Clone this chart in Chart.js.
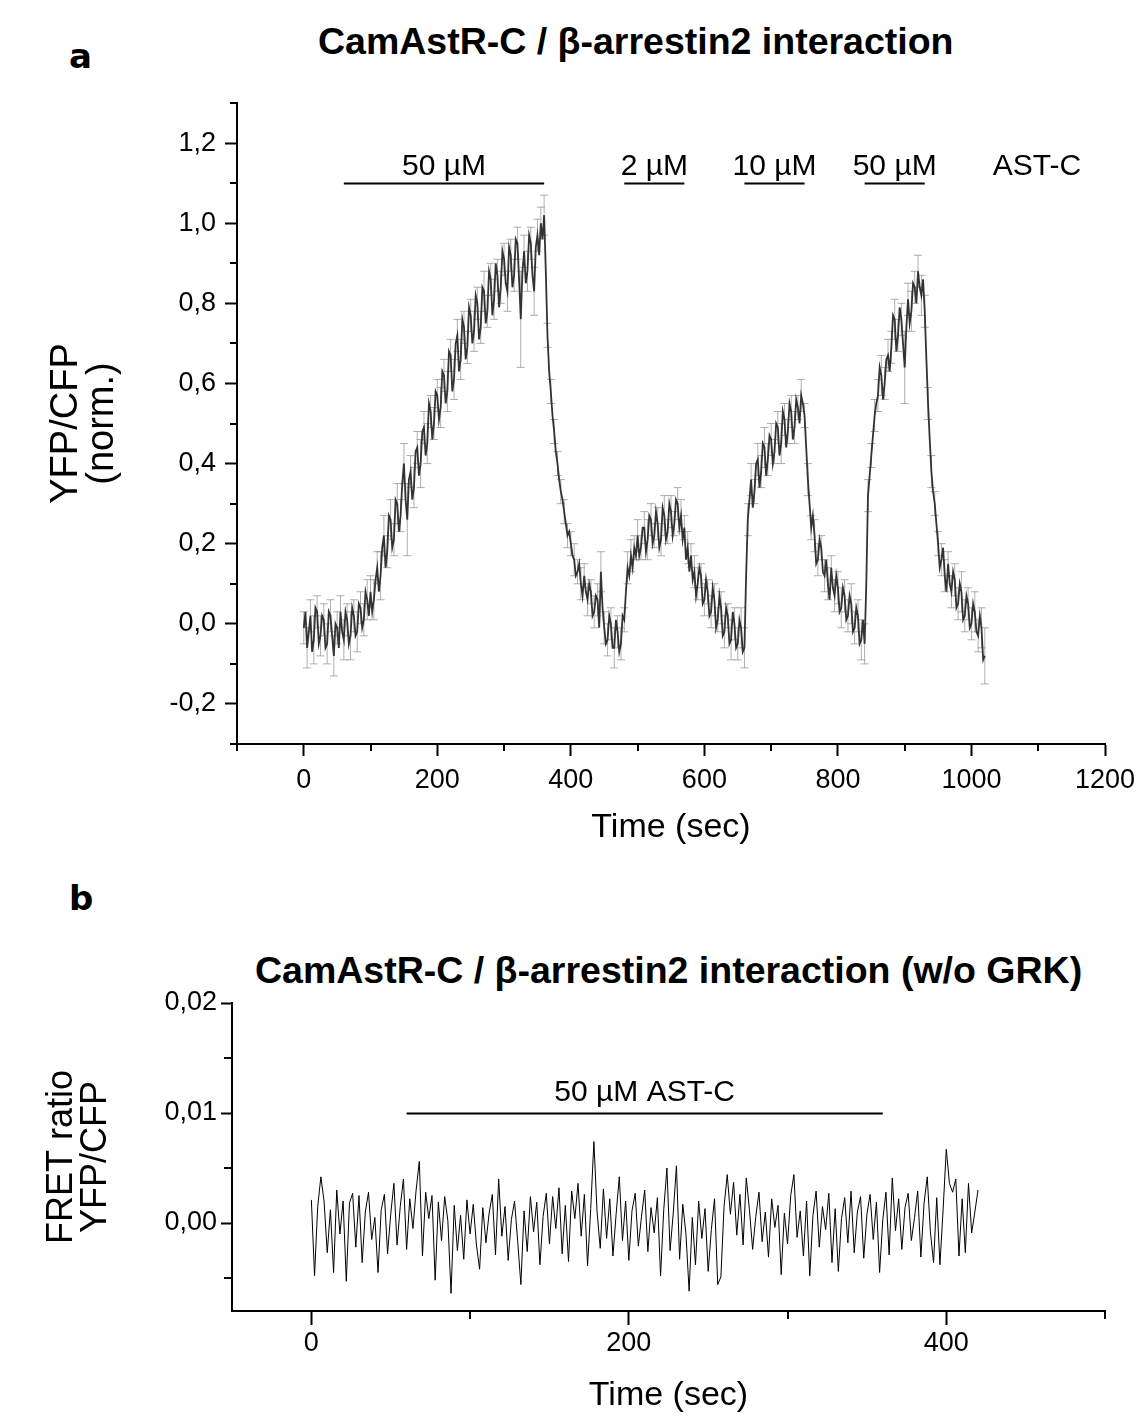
<!DOCTYPE html>
<html>
<head>
<meta charset="utf-8">
<title>CamAstR-C / β-arrestin2 interaction</title>
<script src="https://cdn.jsdelivr.net/npm/chart.js@4.4.1/dist/chart.umd.min.js"></script>
<style>
    html, body { margin: 0; padding: 0; background: #fff; }
    body { width: 1145px; height: 1419px; position: relative; overflow: hidden; font-family: "Liberation Sans", Arial, sans-serif; }
    .letter { position: absolute; font-family: "DejaVu Sans", sans-serif; font-weight: bold; font-size: 34px; line-height: 1; color: #000; }
    .title { position: absolute; font-weight: bold; font-size: 37.5px; line-height: 1; white-space: nowrap; color: #000; }
    #boxA { position: absolute; left: 0; top: 0; width: 1145px; height: 880px; }
    #boxB { position: absolute; left: 0; top: 900px; width: 1145px; height: 519px; }
</style>
</head>
<body>
<div class="letter" style="left:69px; top:39px;">a</div>
<div class="letter" style="left:69px; top:881px;">b</div>
<div class="title" style="left:318px; top:23px;">CamAstR-C / β-arrestin2 interaction</div>
<div class="title" style="left:255px; top:952px;">CamAstR-C / β-arrestin2 interaction (w/o GRK)</div>
<div id="boxA"><canvas id="chartA"></canvas></div>
<div id="boxB"><canvas id="chartB"></canvas></div>

<script>
// ---- panel a: normalised YFP/CFP, one sample every 2.5 s from 0 s ----
const stepA = 2.5;
const ratioA = [
    -0.01, 0.03, -0.06, -0.02, 0.02, -0.07, -0.04, 0.04, 0.03, -0.05, -0.03, 0.02, 0.01, -0.06, -0.05, 0.03, 0.02, -0.03, -0.08, 0.00,
    -0.01, -0.06, 0.03, -0.02, -0.04, 0.03, 0.01, -0.05, -0.03, 0.04, 0.02, -0.03, -0.02, 0.05, 0.04, -0.01, 0.01, 0.08, 0.06, 0.02,
    0.08, 0.03, 0.06, 0.11, 0.14, 0.08, 0.12, 0.19, 0.22, 0.14, 0.18, 0.27, 0.26, 0.19, 0.21, 0.31, 0.30, 0.23, 0.27, 0.35,
    0.40, 0.31, 0.26, 0.36, 0.38, 0.31, 0.34, 0.43, 0.44, 0.37, 0.40, 0.48, 0.49, 0.42, 0.45, 0.55, 0.53, 0.46, 0.50, 0.58,
    0.57, 0.51, 0.54, 0.63, 0.62, 0.55, 0.58, 0.68, 0.67, 0.58, 0.61, 0.70, 0.72, 0.63, 0.66, 0.76, 0.74, 0.66, 0.69, 0.79,
    0.77, 0.70, 0.73, 0.82, 0.80, 0.71, 0.74, 0.84, 0.83, 0.75, 0.78, 0.88, 0.86, 0.77, 0.81, 0.90, 0.87, 0.79, 0.84, 0.93,
    0.91, 0.85, 0.83, 0.94, 0.92, 0.84, 0.87, 0.96, 0.95, 0.86, 0.76, 0.88, 0.93, 0.85, 0.88, 0.97, 0.95, 0.87, 0.83, 0.94,
    0.97, 0.92, 1.00, 0.96, 1.02, 0.88, 0.72, 0.63, 0.58, 0.52, 0.48, 0.43, 0.40, 0.36, 0.33, 0.31, 0.28, 0.25, 0.22, 0.23,
    0.20, 0.17, 0.16, 0.12, 0.13, 0.15, 0.10, 0.07, 0.12, 0.08, 0.06, 0.10, 0.08, 0.02, 0.03, 0.07, 0.06, -0.01, 0.13, 0.04,
    -0.01, -0.05, -0.04, 0.02, 0.00, -0.06, -0.06, 0.01, -0.02, -0.07, -0.05, 0.02, 0.01, 0.08, 0.14, 0.12, 0.17, 0.14, 0.19, 0.17,
    0.22, 0.17, 0.19, 0.24, 0.24, 0.18, 0.21, 0.27, 0.26, 0.20, 0.22, 0.28, 0.25, 0.19, 0.21, 0.29, 0.27, 0.21, 0.23, 0.30,
    0.28, 0.22, 0.25, 0.31, 0.30, 0.24, 0.27, 0.21, 0.24, 0.16, 0.19, 0.13, 0.17, 0.11, 0.13, 0.07, 0.10, 0.14, 0.12, 0.05,
    0.06, 0.11, 0.08, 0.02, 0.03, 0.09, 0.06, -0.01, 0.01, 0.07, 0.04, -0.03, -0.02, 0.04, 0.02, -0.05, -0.04, 0.03, 0.00, -0.06,
    -0.05, 0.01, -0.01, -0.07, -0.06, 0.12, 0.26, 0.31, 0.36, 0.29, 0.33, 0.40, 0.41, 0.34, 0.38, 0.45, 0.44, 0.37, 0.41, 0.47,
    0.46, 0.40, 0.43, 0.50, 0.49, 0.42, 0.45, 0.53, 0.51, 0.44, 0.48, 0.55, 0.53, 0.46, 0.49, 0.56, 0.54, 0.50, 0.57, 0.55,
    0.52, 0.44, 0.36, 0.30, 0.24, 0.27, 0.22, 0.15, 0.16, 0.21, 0.19, 0.13, 0.12, 0.16, 0.10, 0.06, 0.14, 0.09, 0.07, 0.12,
    0.09, 0.03, 0.04, 0.09, 0.07, 0.01, 0.02, 0.07, 0.05, -0.02, -0.01, 0.04, 0.02, -0.05, -0.04, 0.01, -0.05, 0.10, 0.32, 0.37,
    0.42, 0.47, 0.52, 0.55, 0.57, 0.64, 0.62, 0.56, 0.60, 0.66, 0.67, 0.63, 0.69, 0.77, 0.76, 0.68, 0.72, 0.79, 0.76, 0.70,
    0.64, 0.74, 0.81, 0.75, 0.78, 0.85, 0.84, 0.80, 0.88, 0.84, 0.82, 0.86, 0.78, 0.66, 0.55, 0.46, 0.38, 0.33, 0.30, 0.25,
    0.20, 0.14, 0.16, 0.19, 0.12, 0.08, 0.15, 0.10, 0.08, 0.13, 0.11, 0.04, 0.05, 0.10, 0.08, 0.01, 0.02, 0.07, 0.05, -0.01,
    0.00, 0.05, 0.03, -0.02, -0.03, 0.02, -0.01, -0.09, -0.08
];
// s.e.m., one bar every 5 s
const errStepA = 5;
const errA = [
    0.04, 0.05, 0.04, 0.06, 0.04, 0.05, 0.04, 0.05, 0.04, 0.05,
    0.04, 0.04, 0.05, 0.04, 0.06, 0.04, 0.05, 0.04, 0.04, 0.05,
    0.04, 0.05, 0.04, 0.06, 0.05, 0.04, 0.05, 0.04, 0.05, 0.04,
    0.05, 0.09, 0.04, 0.05, 0.04, 0.06, 0.04, 0.05, 0.04, 0.04,
    0.04, 0.05, 0.04, 0.05, 0.04, 0.05, 0.04, 0.05, 0.04, 0.04,
    0.04, 0.05, 0.04, 0.04, 0.05, 0.04, 0.04, 0.05, 0.04, 0.04,
    0.04, 0.05, 0.04, 0.04, 0.04, 0.12, 0.04, 0.05, 0.04, 0.06,
    0.04, 0.04, 0.05, 0.03, 0.03, 0.03, 0.03, 0.03, 0.03, 0.03,
    0.03, 0.04, 0.03, 0.04, 0.03, 0.04, 0.03, 0.04, 0.04, 0.05,
    0.04, 0.04, 0.04, 0.05, 0.04, 0.04, 0.03, 0.04, 0.04, 0.03,
    0.04, 0.03, 0.04, 0.05, 0.04, 0.03, 0.04, 0.04, 0.05, 0.03,
    0.04, 0.03, 0.04, 0.04, 0.03, 0.04, 0.03, 0.04, 0.04, 0.03,
    0.04, 0.03, 0.04, 0.04, 0.03, 0.04, 0.04, 0.03, 0.05, 0.04,
    0.04, 0.05, 0.05, 0.04, 0.04, 0.03, 0.04, 0.04, 0.05, 0.04,
    0.04, 0.03, 0.04, 0.05, 0.04, 0.03, 0.04, 0.04, 0.03, 0.04,
    0.03, 0.04, 0.03, 0.04, 0.04, 0.03, 0.04, 0.04, 0.03, 0.04,
    0.04, 0.05, 0.04, 0.04, 0.05, 0.04, 0.04, 0.05, 0.05, 0.04,
    0.03, 0.04, 0.04, 0.05, 0.04, 0.04, 0.04, 0.05, 0.04, 0.04,
    0.09, 0.04, 0.05, 0.04, 0.04, 0.05, 0.04, 0.04, 0.04, 0.03,
    0.03, 0.04, 0.04, 0.03, 0.04, 0.04, 0.04, 0.05, 0.04, 0.04,
    0.04, 0.05, 0.04, 0.05, 0.07
];
const xTicksA = [0, 200, 400, 600, 800, 1000, 1200];
const xMinorA = [-100, 100, 300, 500, 700, 900, 1100];
const yTicksA = [-0.2, 0, 0.2, 0.4, 0.6, 0.8, 1.0, 1.2];
const yMinorA = [-0.3, -0.1, 0.1, 0.3, 0.5, 0.7, 0.9, 1.1, 1.3];
const pulseStartA = [60, 480, 660, 840];
const pulseEndA = [360, 570, 750, 930];
const pulseLabelA = ['50 µM', '2 µM', '10 µM', '50 µM'];

// ---- panel b: FRET ratio without GRK, one sample every 2 s from 0 s ----
const stepB = 2;
const ratioB = [
    0.0021, -0.0048, 0.0015, 0.0042, 0.0020, -0.0027, 0.0012, -0.0045, 0.0030, -0.0010,
    0.0020, -0.0053, 0.0018, 0.0027, -0.0022, 0.0025, -0.0036, 0.0010, 0.0028, -0.0015,
    0.0005, -0.0045, 0.0012, 0.0026, -0.0028, 0.0008, 0.0036, -0.0020, 0.0015, 0.0040,
    -0.0024, 0.0022, -0.0005, 0.0030, 0.0056, -0.0030, 0.0028, 0.0004, 0.0025, -0.0052,
    0.0019, -0.0016, 0.0024, 0.0002, -0.0064, 0.0016, -0.0025, 0.0007, -0.0033, 0.0021,
    -0.0010, 0.0017, -0.0020, -0.0042, 0.0014, -0.0018, 0.0009, 0.0026, -0.0029, 0.0040,
    -0.0012, 0.0015, -0.0034, 0.0003, 0.0020, -0.0017, -0.0056, 0.0011, -0.0026, 0.0024,
    -0.0008, 0.0019, -0.0038, 0.0006, 0.0027, -0.0019, 0.0024, -0.0005, 0.0032, -0.0028,
    0.0016, -0.0035, 0.0029, 0.0004, 0.0036, -0.0012, 0.0026, -0.0039, 0.0013, 0.0074,
    0.0010, -0.0023, 0.0031, -0.0014, 0.0022, -0.0030, 0.0008, 0.0042, -0.0016, 0.0020,
    -0.0034, 0.0011, 0.0027, -0.0021, 0.0006, 0.0030, -0.0026, 0.0014, -0.0009, 0.0023,
    -0.0048, 0.0012, 0.0050, -0.0025, 0.0009, 0.0052, -0.0033, 0.0017, -0.0010, -0.0062,
    0.0005, -0.0038, 0.0020, -0.0014, 0.0013, -0.0044, -0.0006, 0.0022, -0.0056, -0.0049,
    0.0015, 0.0044, 0.0008, 0.0037, -0.0011, 0.0026, -0.0020, 0.0041, 0.0012, -0.0024,
    0.0006, 0.0028, -0.0017, 0.0010, -0.0031, 0.0022, -0.0004, 0.0016, -0.0047, 0.0009,
    -0.0019, 0.0025, 0.0044, -0.0013, 0.0011, -0.0030, 0.0020, -0.0048, 0.0007, 0.0029,
    -0.0022, 0.0015, -0.0006, 0.0027, -0.0036, 0.0013, -0.0044, 0.0004, 0.0023, -0.0018,
    0.0029, -0.0027, 0.0010, 0.0024, -0.0032, 0.0008, 0.0026, -0.0015, 0.0019, -0.0045,
    0.0003, 0.0028, -0.0029, 0.0041, -0.0007, 0.0022, -0.0024, 0.0014, 0.0027, -0.0016,
    0.0005, 0.0029, -0.0031, 0.0018, 0.0042, -0.0008, -0.0036, 0.0023, -0.0038, 0.0012,
    0.0067, 0.0036, 0.0028, 0.0040, -0.0030, 0.0022, -0.0027, 0.0036, -0.0009, 0.0010,
    0.0030
];
const xTicksB = [0, 200, 400];
const xMinorB = [100, 300, 500];
const yTicksB = [0, 0.01, 0.02];
const yMinorB = [-0.005, 0.005, 0.015];
const pulseB = [60, 360];
const pulseLabelB = '50 µM AST-C';

const FONT = '"Liberation Sans", Arial, sans-serif';

function toPoints(values, step) {
    return values.map((v, i) => ({ x: i * step, y: v }));
}

function comma(digits) {
    return value => value.toFixed(digits).replace('.', ',');
}

// short ticks between the labelled ones
const minorTicks = {
    id: 'minorTicks',
    afterDraw(chart, args, opts) {
        const { ctx, chartArea, scales: { x, y } } = chart;
        ctx.save();
        ctx.strokeStyle = '#000';
        ctx.lineWidth = 2;
        ctx.beginPath();
        opts.x.forEach(v => {
            const px = Math.round(x.getPixelForValue(v));
            ctx.moveTo(px, chartArea.bottom);
            ctx.lineTo(px, chartArea.bottom + opts.length);
        });
        opts.y.forEach(v => {
            const py = Math.round(y.getPixelForValue(v));
            ctx.moveTo(chartArea.left, py);
            ctx.lineTo(chartArea.left - opts.length, py);
        });
        ctx.stroke();
        ctx.restore();
    }
};

const errorBars = {
    id: 'errorBars',
    beforeDatasetsDraw(chart, args, opts) {
        if (!opts.errors) return;
        const { ctx, scales: { x, y } } = chart;
        const data = chart.data.datasets[0].data;
        const every = opts.step / opts.dataStep;
        ctx.save();
        ctx.strokeStyle = 'rgba(140, 140, 140, 0.7)';
        ctx.lineWidth = 1;
        ctx.beginPath();
        opts.errors.forEach((e, i) => {
            const p = data[i * every];
            if (!p) return;
            const px = x.getPixelForValue(p.x);
            const top = y.getPixelForValue(p.y + e);
            const bot = y.getPixelForValue(p.y - e);
            ctx.moveTo(px, top);
            ctx.lineTo(px, bot);
            ctx.moveTo(px - 4, top);
            ctx.lineTo(px + 4, top);
            ctx.moveTo(px - 4, bot);
            ctx.lineTo(px + 4, bot);
        });
        ctx.stroke();
        ctx.restore();
    }
};

// application bars with their labels
const pulses = {
    id: 'pulses',
    afterDatasetsDraw(chart, args, opts) {
        const { ctx, scales: { x, y } } = chart;
        ctx.save();
        ctx.strokeStyle = '#000';
        ctx.fillStyle = '#000';
        ctx.lineWidth = 2;
        ctx.font = '30px ' + FONT;
        ctx.textAlign = 'center';
        ctx.textBaseline = 'alphabetic';
        const py = Math.round(y.getPixelForValue(opts.level)) + 0.5;
        opts.start.forEach((s, i) => {
            const x1 = x.getPixelForValue(s);
            const x2 = x.getPixelForValue(opts.end[i]);
            ctx.beginPath();
            ctx.moveTo(x1, py);
            ctx.lineTo(x2, py);
            ctx.stroke();
            ctx.fillText(opts.labels[i], (x1 + x2) / 2, py - opts.gap);
        });
        if (opts.extra) {
            ctx.fillText(opts.extra, x.getPixelForValue(opts.extraAt), py - opts.gap);
        }
        ctx.restore();
    }
};

function axes(cfg) {
    return {
        x: {
            type: 'linear',
            min: cfg.xMin,
            max: cfg.xMax,
            afterBuildTicks: s => { s.ticks = cfg.xTicks.map(v => ({ value: v })); },
            afterFit: s => { s.height = cfg.xHeight; s.paddingLeft = 0; s.paddingRight = 0; },
            border: { display: true, color: '#000', width: 2 },
            grid: { drawOnChartArea: false, drawTicks: true, tickLength: cfg.xTickLen, tickColor: '#000', tickWidth: 2 },
            ticks: { color: '#000', font: { family: FONT, size: cfg.tickSize }, padding: cfg.xPad, maxRotation: 0, autoSkip: false, callback: value => String(value) },
            title: { display: true, text: 'Time (sec)', color: '#000', font: { family: FONT, size: 34 }, padding: { top: 0, bottom: cfg.xTitlePad } }
        },
        y: {
            type: 'linear',
            min: cfg.yMin,
            max: cfg.yMax,
            afterBuildTicks: s => { s.ticks = cfg.yTicks.map(v => ({ value: v })); },
            afterFit: s => { s.width = cfg.yWidth; s.paddingTop = 0; s.paddingBottom = 0; },
            border: { display: true, color: '#000', width: 2 },
            grid: { drawOnChartArea: false, drawTicks: true, tickLength: cfg.yTickLen, tickColor: '#000', tickWidth: 2 },
            ticks: { color: '#000', font: { family: FONT, size: cfg.tickSize }, padding: cfg.yPad, callback: comma(cfg.digits) },
            title: { display: true, text: cfg.yTitle, color: '#000', font: { family: FONT, size: cfg.yTitleSize, lineHeight: 0.95 }, padding: { top: cfg.yTitlePad, bottom: 0 } }
        }
    };
}

const chartA = new Chart(document.getElementById('chartA'), {
    type: 'line',
    data: {
        datasets: [{
            data: toPoints(ratioA, stepA),
            borderColor: '#333',
            borderWidth: 1.8,
            pointRadius: 0,
            tension: 0
        }]
    },
    options: {
        responsive: true,
        maintainAspectRatio: false,
        animation: false,
        events: [],
        layout: { padding: { top: 103, right: 40, left: 0, bottom: 0 } },
        scales: axes({
            xMin: -100, xMax: 1200, xTicks: xTicksA, xHeight: 136, xTickLen: 12, xPad: 8, xTitlePad: 32,
            yMin: -0.3, yMax: 1.3, yTicks: yTicksA, yWidth: 237, yTickLen: 12, yPad: 9, digits: 1,
            tickSize: 27, yTitle: ['YFP/CFP', '(norm.)'], yTitleSize: 38, yTitlePad: 48
        }),
        plugins: {
            legend: { display: false },
            tooltip: { enabled: false },
            minorTicks: { x: xMinorA, y: yMinorA, length: 7 },
            errorBars: { errors: errA, step: errStepA, dataStep: stepA },
            pulses: { start: pulseStartA, end: pulseEndA, labels: pulseLabelA, level: 1.1, gap: 9, extra: 'AST-C', extraAt: 1098 }
        }
    },
    plugins: [minorTicks, errorBars, pulses]
});

const chartB = new Chart(document.getElementById('chartB'), {
    type: 'line',
    data: {
        datasets: [{
            data: toPoints(ratioB, stepB),
            borderColor: '#000',
            borderWidth: 1,
            pointRadius: 0,
            tension: 0
        }]
    },
    options: {
        responsive: true,
        maintainAspectRatio: false,
        animation: false,
        events: [],
        layout: { padding: { top: 103, right: 40, left: 0, bottom: 0 } },
        scales: axes({
            xMin: -50, xMax: 500, xTicks: xTicksB, xHeight: 108, xTickLen: 14, xPad: 2, xTitlePad: 3,
            yMin: -0.008, yMax: 0.02, yTicks: yTicksB, yWidth: 232, yTickLen: 11, yPad: 4, digits: 2,
            tickSize: 27, yTitle: ['FRET ratio', 'YFP/CFP'], yTitleSize: 36, yTitlePad: 45
        }),
        plugins: {
            legend: { display: false },
            tooltip: { enabled: false },
            minorTicks: { x: xMinorB, y: yMinorB, length: 8 },
            pulses: { start: [pulseB[0]], end: [pulseB[1]], labels: [pulseLabelB], level: 0.01, gap: 13 }
        }
    },
    plugins: [minorTicks, pulses]
});
</script>
</body>
</html>
